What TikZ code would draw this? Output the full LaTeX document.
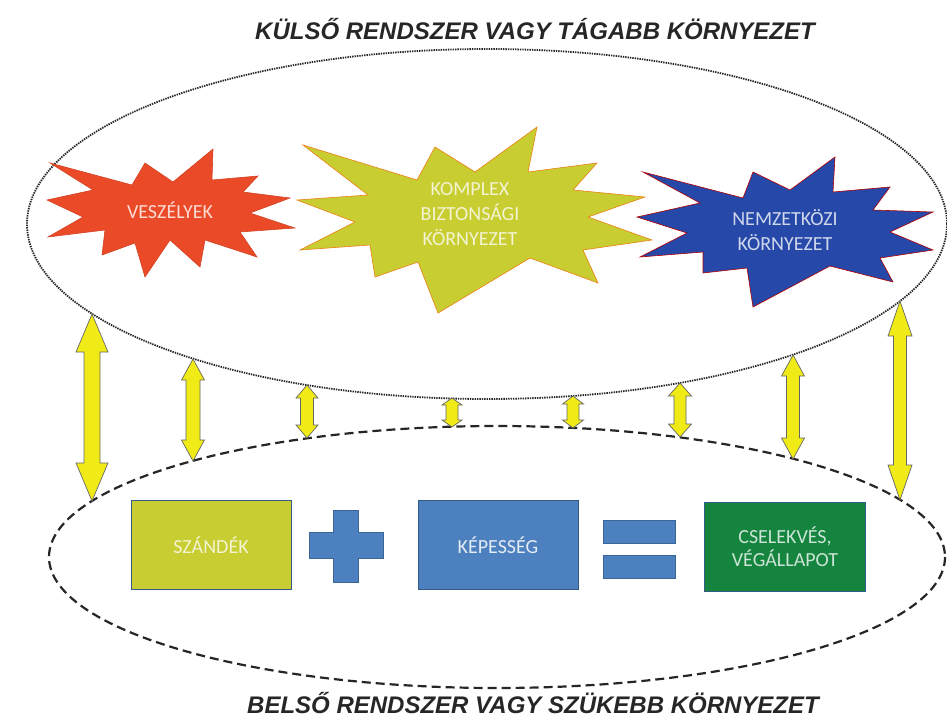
\documentclass[tikz,border=0pt]{standalone}
\usepackage{fontspec}
\setmainfont{Carlito}
\newfontfamily\headfont{Liberation Sans}
\usetikzlibrary{calc}
\definecolor{threatred}{RGB}{234,74,40}
\definecolor{limegreen}{RGB}{200,205,50}
\definecolor{starblue}{RGB}{38,72,168}
\definecolor{boxblue}{RGB}{76,128,190}
\definecolor{actgreen}{RGB}{20,132,62}
\definecolor{arrowyellow}{RGB}{240,234,22}

\begin{document}
\begin{tikzpicture}[x=1pt, y=-1pt,
		title/.style={font=\headfont\bfseries\itshape\fontsize{24}{28}\selectfont, text=black!85,
			inner sep=0pt, anchor=base},
		burst/.style={line width=0.6pt, line join=miter},
		startext/.style={align=center, font=\fontsize{20}{25}\selectfont},
		box/.style={draw=boxblue!70!black, line width=0.6pt, minimum width=160pt,
			minimum height=89pt, align=center, font=\fontsize{20}{23}\selectfont},
		yarrow/.style={fill=arrowyellow, draw=black!60, line width=0.7pt, line join=miter},
		outerline/.style={draw=black!85, line width=1.8pt, dash pattern=on 1.4pt off 1pt},
		innerline/.style={draw=black!85, line width=2.2pt, dash pattern=on 9pt off 5pt}
	]
		\useasboundingbox (0,0) rectangle (947,720);
		\node[title] (outtitle) at (535,39) {KÜLSŐ RENDSZER VAGY TÁGABB KÖRNYEZET};
		\node[title] (intitle) at (533,713) {BELSŐ RENDSZER VAGY SZÜKEBB KÖRNYEZET};
		\draw[outerline] (487,224) ellipse [x radius=460, y radius=175];
		\draw[innerline] (497,557) ellipse [x radius=448, y radius=131];
		\foreach \x/\t/\b/\s/\h/\l [count=\i] in {92/314/501/8/16/38, 193/359/461/7/11.5/21,
			307/385/438/6.5/11/13, 452/398/427/6/10/7, 573/396/428/6/10.5/8,
			680/383/437/6/11.5/13, 793/355/459/6.5/11.5/21, 900/301/500/6.5/12/35} {
			\coordinate (up\i) at (\x,\t);
			\coordinate (dn\i) at (\x,\b);
			\draw[yarrow] (up\i) -- ++(\h,\l) -- ++(\s-\h,0) -- ($(dn\i)+(\s,-\l)$) -- ++(\h-\s,0)
				-- (dn\i) -- ++(-\h,-\l) -- ++(\h-\s,0) -- ($(up\i)+(-\s,\l)$) -- ++(\s-\h,0) -- cycle;
		}
		\draw[burst, fill=threatred, draw=threatred!90!black] (50,163) -- (132,185) -- (145,163) -- (173,182)
			-- (213,149) -- (212,180) -- (258,176) -- (243,192) -- (290,198) -- (250,213) -- (295,228)
			-- (240,232) -- (257,257) -- (205,240) -- (200,267) -- (170,240) -- (145,277) -- (135,243)
			-- (102,255) -- (105,230) -- (48,237) -- (83,217) -- (47,200) -- (93,190) -- cycle;
		\draw[burst, fill=limegreen, draw=orange!70!brown] (303,145) -- (417,180) -- (435,147) -- (475,172)
			-- (537,127) -- (528,172) -- (597,163) -- (573,190) -- (645,197) -- (588,217) -- (652,240)
			-- (583,250) -- (598,283) -- (530,258) -- (438,313) -- (418,262) -- (375,277) -- (370,245)
			-- (300,250) -- (355,222) -- (297,200) -- (368,195) -- cycle;
		\draw[burst, fill=starblue, draw=red!70!black] (643,172) -- (743,198) -- (753,172) -- (790,190)
			-- (835,157) -- (833,192) -- (890,187) -- (873,210) -- (933,212) -- (890,232) -- (933,250)
			-- (880,258) -- (893,282) -- (830,266) -- (753,307) -- (747,268) -- (703,273) -- (703,252)
			-- (640,257) -- (687,233) -- (637,217) -- (700,203) -- cycle;
		\node[startext, text=white!80!threatred] (threat) at (170,210) {VESZÉLYEK};
		\node[startext, text=white!78!limegreen] (complex) at (470,214) {KOMPLEX\\BIZTONSÁGI\\KÖRNYEZET};
		\node[startext, text=white!78!starblue] (intl) at (785,230) {NEMZETKÖZI\\KÖRNYEZET};
		\node[box, fill=limegreen, text=white!78!limegreen] (intent) at (211,545) {SZÁNDÉK};
		\node[box, fill=boxblue, text=white!85!boxblue] (capab) at (498,545) {KÉPESSÉG};
		\node[box, fill=actgreen, minimum width=161pt, text=white!78!actgreen] (action) at (785,547) {CSELEKVÉS,\\VÉGÁLLAPOT};
		\draw[fill=boxblue, draw=boxblue!80!black, line width=0.5pt] (333,510) -- (358,510) -- (358,532)
			-- (383,532) -- (383,558) -- (358,558) -- (358,582) -- (333,582) -- (333,558) -- (309,558)
			-- (309,532) -- (333,532) -- cycle;
		\draw[fill=boxblue, draw=boxblue!80!black, line width=0.5pt] (603,520) rectangle (675,543)
			(603,555) rectangle (675,578);
	\end{tikzpicture}
\end{document}
